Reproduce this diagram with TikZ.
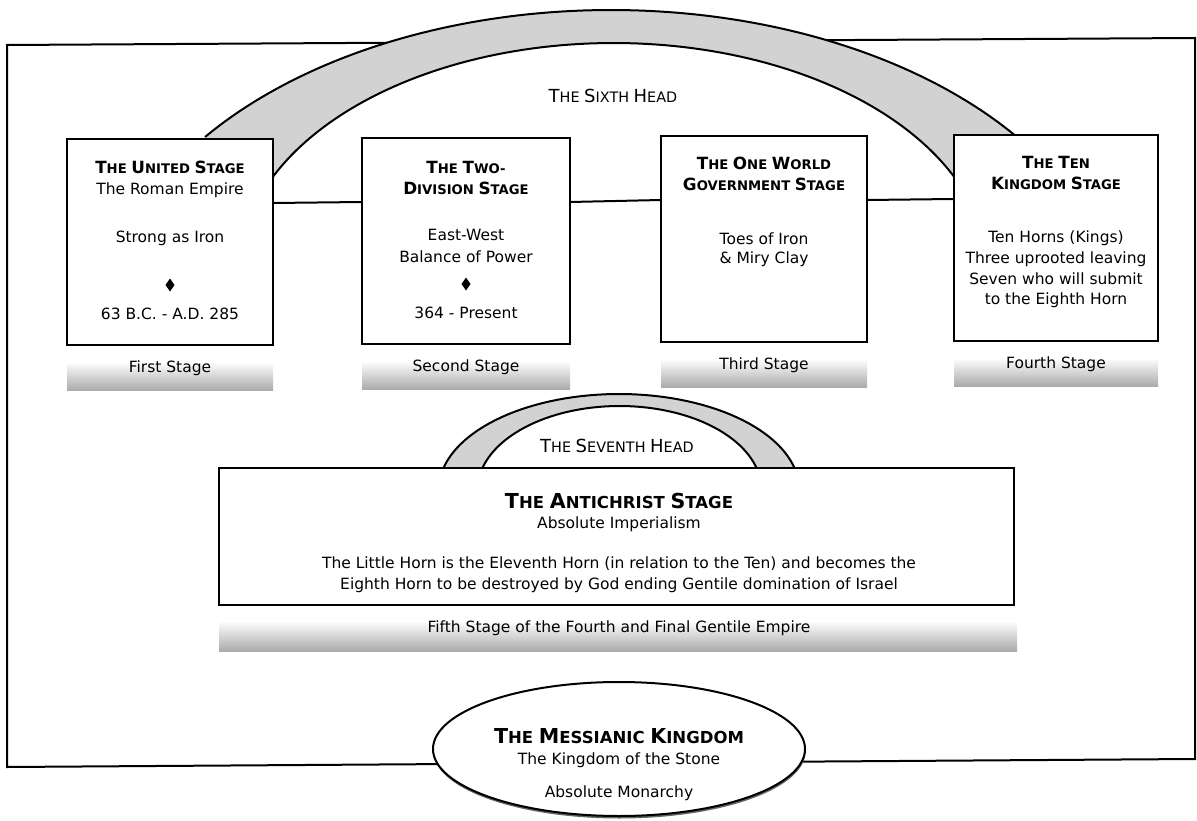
\documentclass[tikz,border=0pt]{standalone}
\usepackage{fontspec}
\setmainfont{DejaVu Sans}
\usetikzlibrary{shapes.geometric,shadows}
\definecolor{bandgray}{RGB}{210,210,210}
\newcommand\bodyfont{\fontsize{15.5}{20}\selectfont}
\newcommand\bxfont{\bfseries\fontsize{13.2}{21}\selectfont}
\newcommand\bxC[1]{{\fontsize{16.8}{21}\selectfont #1}}
\newcommand\hdfont{\fontsize{14.4}{20}\selectfont}
\newcommand\hdC[1]{{\fontsize{18}{20}\selectfont #1}}
\newcommand\acfont{\bfseries\fontsize{16.5}{24}\selectfont}
\newcommand\acC[1]{{\fontsize{20.6}{24}\selectfont #1}}
\begin{document}
\begin{tikzpicture}[x=1pt,y=-1pt,
  every node/.style={inner sep=0pt, outer sep=0pt},
  conn/.style={draw=black, line width=2pt},
  frame/.style={draw=black, line width=2pt, line join=miter},
  stagebox/.style={draw=black, fill=white, line width=2.2pt, minimum width=206pt, minimum height=206pt},
  txt/.style={anchor=base, font=\bodyfont},
  ttl/.style={anchor=base, font=\bxfont},
  hd/.style={anchor=base, font=\hdfont},
  big/.style={anchor=base, font=\acfont},
  dia/.style={diamond, fill=black, minimum width=9pt, minimum height=13pt, inner sep=0pt},
  band/.style={top color=white, bottom color=black!33, draw=none},
  arcline/.style={draw=black, line width=2pt},
]
\useasboundingbox (0,0) rectangle (1197,821);
\fill[white] (0,0) rectangle (1197,821);
% outer frame
\draw[frame] (7,767) -- (7,45) -- (1195,38) -- (1195,759) -- cycle;
% sixth head arch
\fill[bandgray] plot[domain=142.9:37.1, samples=90] ({611+509*cos(\x)},{330-320*sin(\x)})
  -- plot[domain=24.9:155.1, samples=90] ({613.5+375*cos(\x)},{273-230*sin(\x)}) -- cycle;
\draw[arcline] plot[domain=142.9:37.1, samples=90] ({611+509*cos(\x)},{330-320*sin(\x)});
\draw[arcline] plot[domain=24.9:155.1, samples=90] ({613.5+375*cos(\x)},{273-230*sin(\x)});
\node[hd] (sixth) at (613,103) {\hdC{T}HE \hdC{S}IXTH \hdC{H}EAD};
% seventh head arch
\fill[bandgray] plot[domain=167.4:12.6, samples=60] ({619+180.3*cos(\x)},{490-96*sin(\x)})
  -- plot[domain=14.5:165.5, samples=60] ({619.5+142*cos(\x)},{490-84*sin(\x)}) -- cycle;
\draw[arcline] plot[domain=167.4:12.6, samples=60] ({619+180.3*cos(\x)},{490-96*sin(\x)});
\draw[arcline] plot[domain=14.5:165.5, samples=60] ({619.5+142*cos(\x)},{490-84*sin(\x)});
\node[hd] (seventh) at (617,452) {\hdC{T}HE \hdC{S}EVENTH \hdC{H}EAD};
% stage boxes
\node[stagebox] (b1) at (170,242) {};
\node[stagebox, minimum width=208pt] (b2) at (466,241) {};
\node[stagebox] (b3) at (764,239) {};
\node[stagebox, minimum width=204pt] (b4) at (1056,238) {};
\draw[conn] ([yshift=39pt]b1.east) -- ([yshift=39pt]b2.west);
\draw[conn] ([yshift=39pt]b2.east) -- ([yshift=39pt]b3.west);
\draw[conn] ([yshift=39pt]b3.east) -- ([yshift=39pt]b4.west);
% box 1
\node[ttl] (b1a) at (170,174) {\bxC{T}HE \bxC{U}NITED \bxC{S}TAGE};
\node[txt] (b1b) at (170,195) {The Roman Empire};
\node[txt] (b1c) at (170,243) {Strong as Iron};
\node[dia] (b1d) at (170,285) {};
\node[txt] (b1e) at (170,319) {63 B.C. - A.D. 285};
% box 2
\node[ttl] (b2a) at (466,174) {\bxC{T}HE \bxC{T}WO-};
\node[ttl] (b2b) at (466,195) {\bxC{D}IVISION \bxC{S}TAGE};
\node[txt] (b2c) at (466,241) {East-West};
\node[txt] (b2d) at (466,262) {Balance of Power};
\node[dia] (b2e) at (466,284) {};
\node[txt] (b2f) at (466,318) {364 - Present};
% box 3
\node[ttl] (b3a) at (764,170) {\bxC{T}HE \bxC{O}NE \bxC{W}ORLD};
\node[ttl] (b3b) at (764,191) {\bxC{G}OVERNMENT \bxC{S}TAGE};
\node[txt] (b3c) at (764,244) {Toes of Iron};
\node[txt] (b3d) at (764,264) {\& Miry Clay};
% box 4
\node[ttl] (b4a) at (1056,169) {\bxC{T}HE \bxC{T}EN};
\node[ttl] (b4b) at (1056,190) {\bxC{K}INGDOM \bxC{S}TAGE};
\node[txt] (b4c) at (1056,243) {Ten Horns (Kings)};
\node[txt] (b4d) at (1056,263) {Three uprooted leaving};
\node[txt] (b4e) at (1056,284) {Seven who will submit};
\node[txt] (b4f) at (1056,304) {to the Eighth Horn};
% stage label bands
\shade[band] (67,362) rectangle (273,390);
\shade[band] (362,361) rectangle (570,389);
\shade[band] (661,359) rectangle (867,387);
\shade[band] (954,358) rectangle (1158,386);
\node[txt] (l1) at (170,372) {First Stage};
\node[txt] (l2) at (466,371) {Second Stage};
\node[txt] (l3) at (764,369) {Third Stage};
\node[txt] (l4) at (1056,368) {Fourth Stage};
% antichrist box
\node[draw=black, fill=white, line width=2.2pt, minimum width=795pt, minimum height=137pt] (ac) at (616.5,536.5) {};
\node[big] (aca) at (619,508) {\acC{T}HE \acC{A}NTICHRIST \acC{S}TAGE};
\node[txt] (acb) at (619,528) {Absolute Imperialism};
\node[txt] (acc) at (619,568) {The Little Horn is the Eleventh Horn (in relation to the Ten) and becomes the};
\node[txt] (acd) at (619,589) {Eighth Horn to be destroyed by God ending Gentile domination of Israel};
\shade[band] (219,621) rectangle (1017,651);
\node[txt] (l5) at (619,632) {Fifth Stage of the Fourth and Final Gentile Empire};
% messianic kingdom
\node[ellipse, draw=black, fill=white, line width=2pt, minimum width=372pt, minimum height=134pt,
  drop shadow={shadow xshift=0.5pt, shadow yshift=-2.5pt, fill=black!60, opacity=1}] (msg) at (619,749) {};
\node[big] (msa) at (619,743) {\acC{T}HE \acC{M}ESSIANIC \acC{K}INGDOM};
\node[txt] (msb) at (619,764) {The Kingdom of the Stone};
\node[txt] (msc) at (619,797) {Absolute Monarchy};
\end{tikzpicture}
\end{document}
